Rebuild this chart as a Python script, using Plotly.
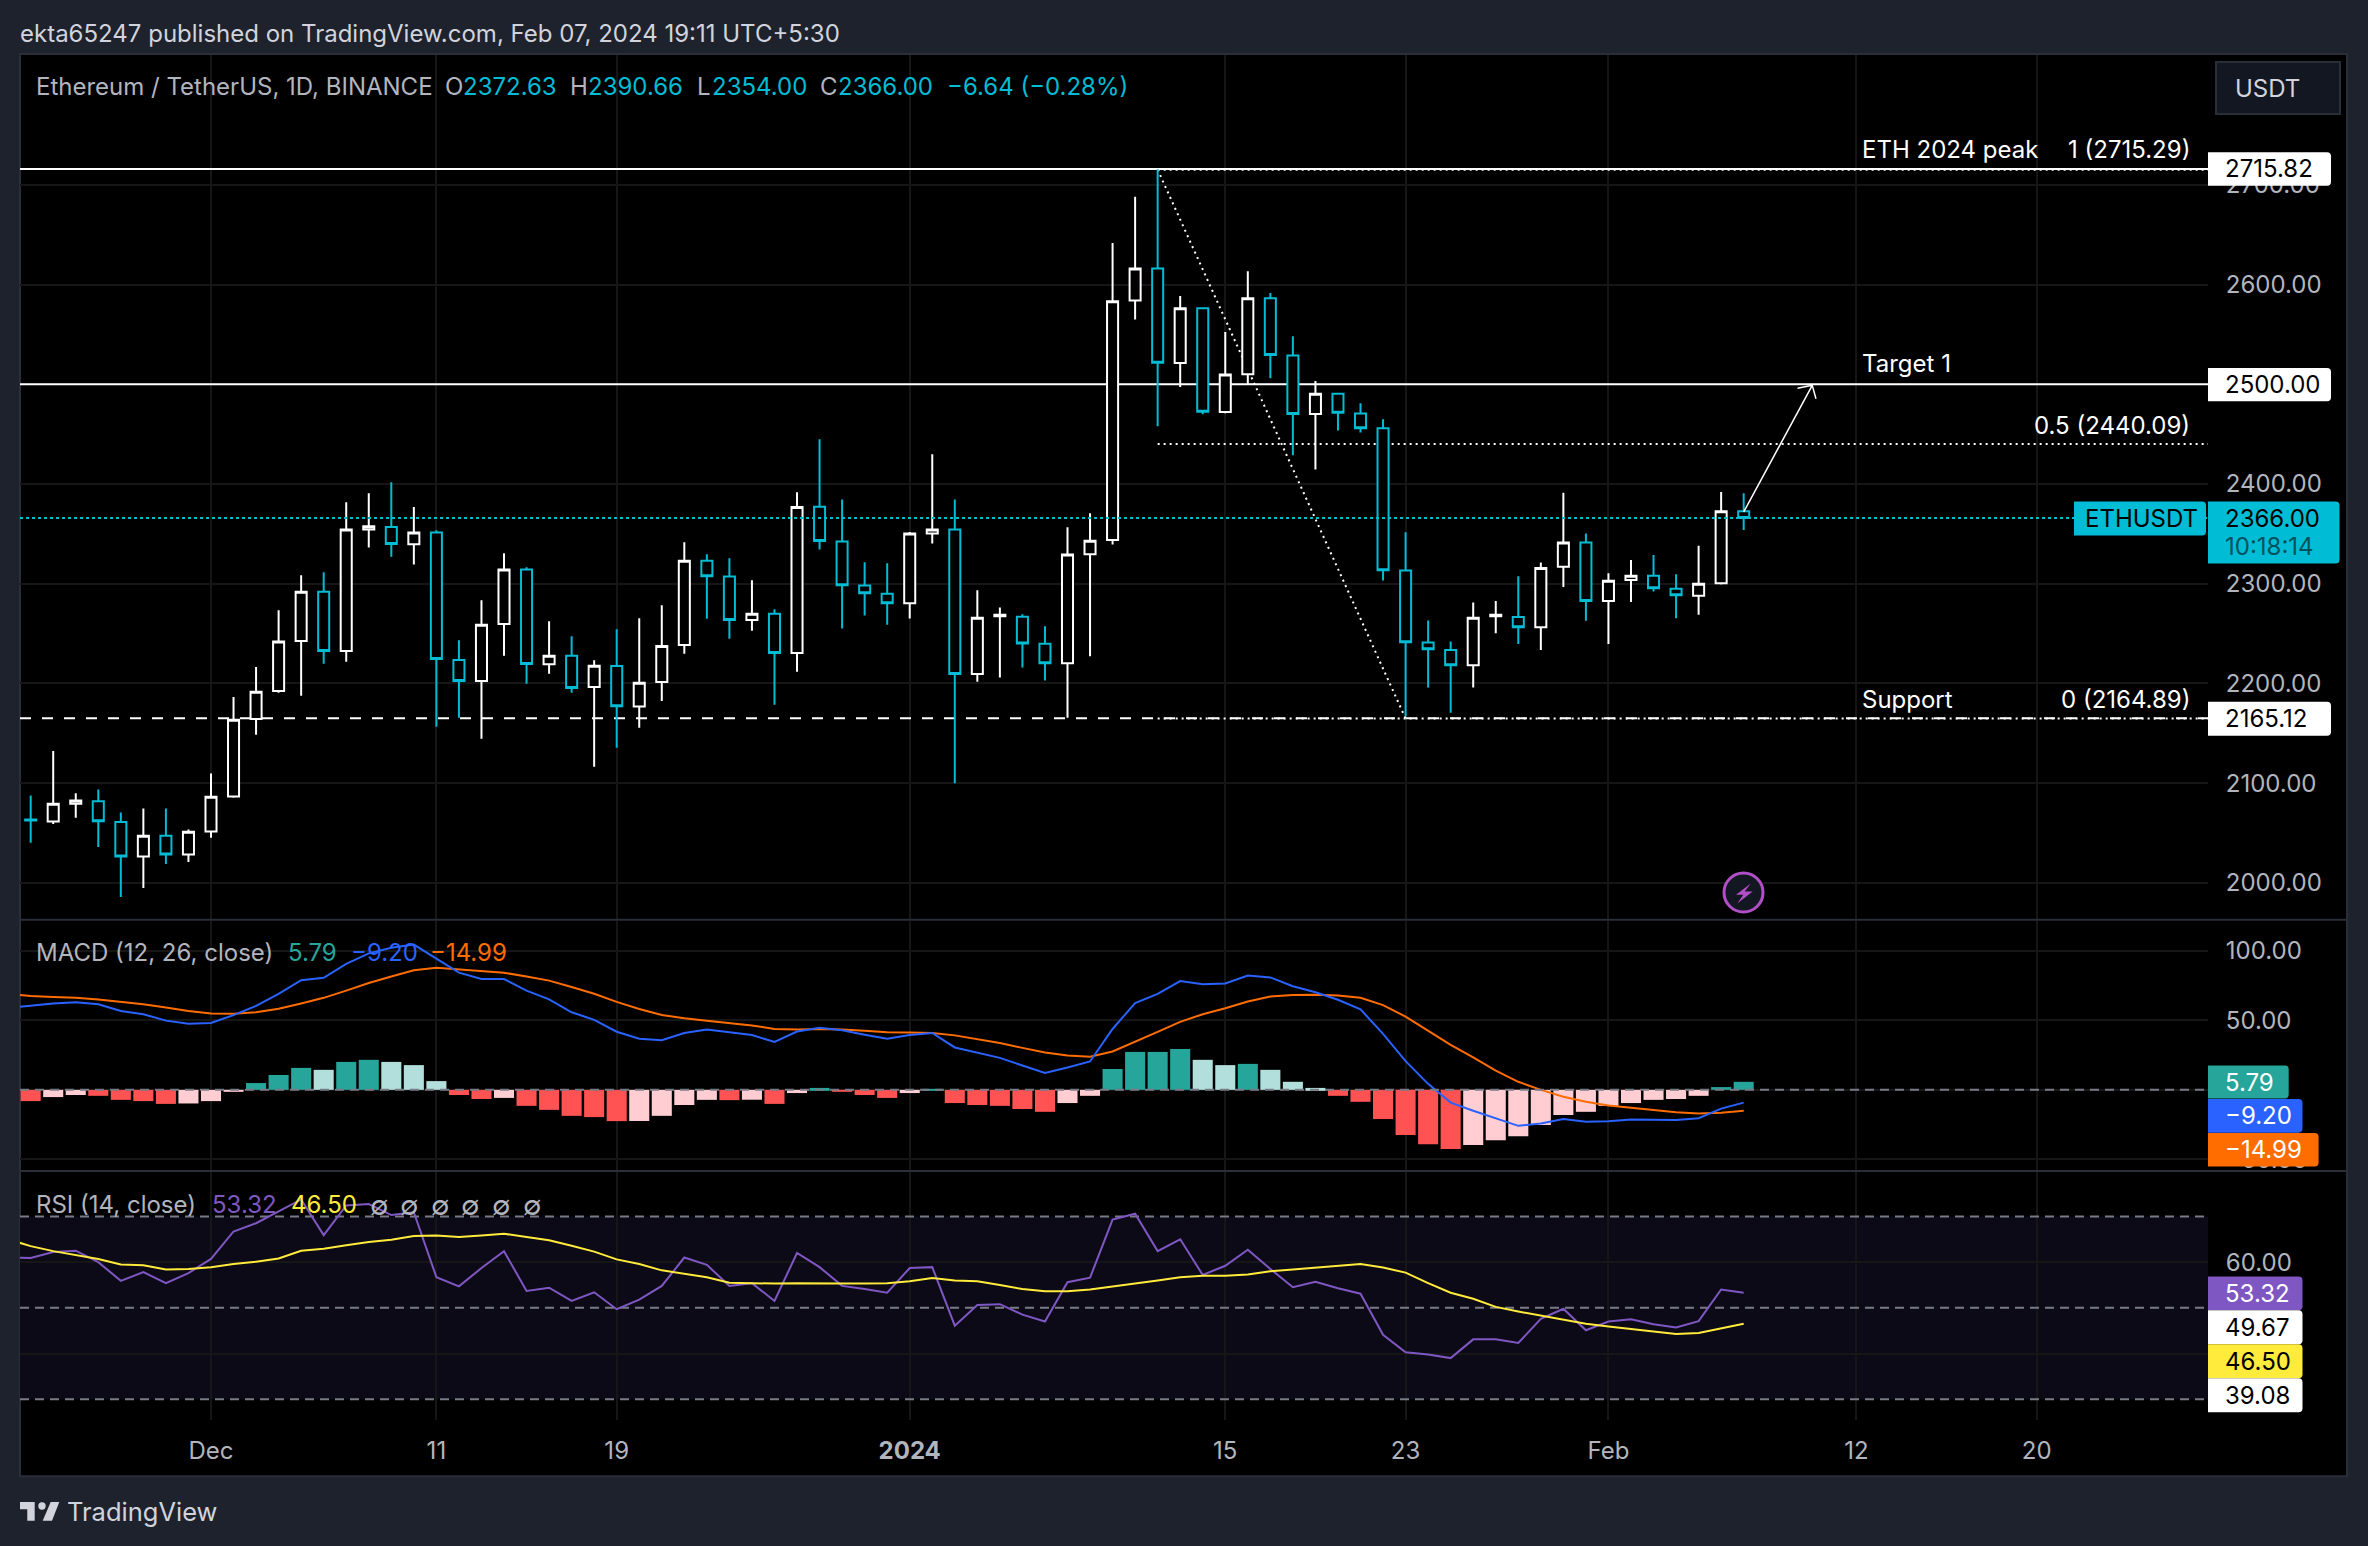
import pandas as pd
import plotly.graph_objects as go

W, H = 2368, 1546
Y_FIT = 1.0035  # vertical fit against the reference photo

# daily candles, Nov 23 2023 -> Feb 07 2024
opens = [2063.5, 2061.6, 2079.3, 2082.0, 2061.2, 2026.4, 2047.2, 2028.4, 2051.5, 2086.7, 2164.3,
         2192.4, 2242.6, 2292.1, 2232.6, 2354.3, 2357.0, 2339.6, 2351.3, 2223.5, 2202.4, 2259.7,
         2314.2, 2219.2, 2227.9, 2196.4, 2217.5, 2177.0, 2201.4, 2238.6, 2323.2, 2307.2, 2263.7,
         2270.0, 2230.5, 2377.3, 2342.4, 2298.2, 2290.1, 2280.5, 2350.4, 2354.3, 2209.5, 2267.5,
         2267.0, 2239.8, 2220.2, 2329.7, 2343.9, 2584.0, 2616.2, 2521.3, 2576.3, 2472.2, 2510.2,
         2586.3, 2529.0, 2470.3, 2490.6, 2470.7, 2456.0, 2313.2, 2241.0, 2233.7, 2218.3, 2267.5,
         2266.8, 2256.4, 2317.1, 2341.3, 2282.6, 2303.8, 2308.0, 2295.1, 2288.0, 2300.5, 2372.63]
highs = [2087.7, 2132.2, 2090.0, 2093.7, 2070.6, 2074.6, 2074.6, 2053.5, 2109.8, 2186.4, 2216.5,
         2273.4, 2308.5, 2311.5, 2381.8, 2390.8, 2401.9, 2377.1, 2353.7, 2243.3, 2283.4, 2330.6,
         2316.5, 2262.3, 2247.3, 2223.2, 2254.3, 2265.3, 2278.4, 2341.6, 2329.6, 2325.6, 2303.5,
         2274.4, 2391.8, 2444.9, 2384.6, 2321.6, 2320.5, 2352.0, 2429.9, 2384.6, 2293.6, 2276.3,
         2269.4, 2257.5, 2356.6, 2370.8, 2641.6, 2688.0, 2715.8, 2588.6, 2577.4, 2552.5, 2613.5,
         2591.6, 2548.2, 2503.3, 2491.0, 2481.0, 2464.9, 2351.6, 2263.2, 2242.1, 2281.3, 2282.6,
         2307.6, 2321.3, 2391.2, 2350.4, 2310.5, 2323.8, 2328.8, 2309.6, 2338.0, 2392.0, 2390.66]
lows = [2040.2, 2059.2, 2065.3, 2036.1, 1986.0, 1995.0, 2019.1, 2021.0, 2045.2, 2085.5, 2148.6,
        2190.7, 2187.7, 2219.8, 2221.8, 2336.3, 2327.2, 2319.2, 2156.6, 2165.6, 2144.6, 2227.9,
        2199.8, 2209.8, 2190.7, 2116.4, 2135.5, 2155.6, 2182.4, 2229.9, 2265.0, 2244.9, 2253.0,
        2178.7, 2211.8, 2334.3, 2255.2, 2268.2, 2259.0, 2265.2, 2340.4, 2100.0, 2201.8, 2206.0,
        2216.0, 2203.0, 2165.7, 2227.2, 2339.3, 2565.1, 2458.0, 2497.2, 2469.9, 2471.0, 2500.2,
        2506.0, 2428.8, 2414.6, 2453.8, 2451.8, 2303.2, 2167.2, 2196.0, 2170.7, 2196.0, 2250.5,
        2239.7, 2233.5, 2296.8, 2263.0, 2239.7, 2281.8, 2292.2, 2265.5, 2268.9, 2299.2, 2354.0]
closes = [2062.5, 2079.3, 2082.7, 2061.9, 2026.4, 2047.2, 2028.4, 2051.2, 2086.3, 2163.6, 2191.7,
          2242.0, 2292.1, 2232.6, 2354.3, 2357.7, 2340.0, 2351.3, 2224.5, 2202.4, 2259.0, 2314.2,
          2219.5, 2227.9, 2195.4, 2217.8, 2177.3, 2200.8, 2237.6, 2323.2, 2307.5, 2263.7, 2270.0,
          2230.5, 2377.1, 2342.8, 2298.6, 2290.5, 2280.5, 2350.4, 2354.3, 2209.5, 2266.0, 2269.0,
          2240.2, 2220.2, 2329.3, 2343.1, 2583.2, 2616.2, 2521.7, 2576.3, 2472.6, 2509.8, 2586.3,
          2529.4, 2470.3, 2490.6, 2471.4, 2456.0, 2313.6, 2241.4, 2234.4, 2218.3, 2266.0, 2269.0,
          2256.4, 2315.9, 2341.3, 2282.6, 2303.0, 2308.0, 2295.5, 2288.4, 2300.1, 2372.6, 2366.0]

macd_hist = [-8.1, -5.2, -3.7, -4.3, -7.2, -8.1, -10.1, -9.8, -8.1, -1.4, 4.9, 10.7, 15.8, 14.4,
             20.1, 21.6, 20.1, 17.8, 6.3, -3.7, -6.6, -5.8, -11.5, -14.4, -18.7, -19.6, -22.5,
             -22.4, -18.7, -10.9, -7.2, -7.4, -7.1, -10.1, -2.3, 1.4, -1.4, -3.7, -5.8, -2.3, 0.5,
             -9.5, -10.9, -11.5, -13.8, -15.8, -9.5, -4.3, 15.0, 27.3, 27.3, 29.4, 21.6, 17.8,
             18.7, 14.4, 5.8, 1.4, -4.3, -8.6, -21.0, -32.5, -39.1, -42.6, -39.7, -36.3, -33.4,
             -25.3, -18.1, -15.8, -11.5, -9.5, -7.2, -6.6, -4.3, 2.0, 5.79]

# indicator lines start one day earlier, they run off the left edge
macd_line = [59.0, 60.4, 62.2, 63.0, 61.6, 56.7, 54.4, 49.8, 47.5, 48.1, 53.8, 60.4, 69.1, 78.9,
             80.6, 90.7, 98.2, 102.2, 104.5, 94.4, 84.3, 79.7, 79.7, 71.4, 65.1, 55.8, 50.4, 41.8,
             36.8, 35.7, 40.9, 43.5, 41.2, 39.4, 34.5, 42.0, 44.6, 42.9, 39.7, 36.8, 39.4, 40.9,
             30.5, 26.5, 23.0, 17.5, 12.1, 16.1, 20.4, 43.8, 62.5, 69.1, 78.3, 76.0, 76.6, 82.3,
             80.9, 74.5, 70.2, 64.8, 57.9, 40.3, 20.7, 4.3, -9.2, -15.0, -20.4, -25.9, -24.2,
             -21.0, -23.0, -22.5, -21.3, -21.6, -21.6, -20.4, -13.5, -9.20]
macd_signal = [69.1, 67.6, 66.8, 66.2, 65.0, 63.3, 61.6, 59.3, 56.7, 55.0, 54.7, 55.8, 58.4, 62.2,
               66.2, 71.4, 76.9, 81.5, 86.1, 87.8, 86.6, 85.5, 84.3, 81.5, 78.6, 74.0, 69.1, 63.3,
               58.2, 53.8, 51.5, 49.8, 48.1, 46.3, 43.8, 43.5, 43.8, 43.5, 42.6, 41.5, 41.2, 40.9,
               39.2, 36.6, 33.7, 30.2, 26.8, 24.8, 23.9, 27.6, 34.5, 41.7, 48.9, 54.4, 58.7, 63.6,
               67.1, 68.2, 68.5, 67.9, 66.2, 61.0, 52.7, 42.6, 32.3, 23.3, 13.8, 5.8, 0.0, -4.9,
               -8.6, -11.2, -13.0, -14.7, -16.1, -17.0, -16.4, -14.99]
rsi_line = [61.0, 60.9, 62.2, 62.5, 60.0, 55.9, 57.8, 55.4, 57.6, 60.7, 66.7, 68.5, 71.1, 73.7,
            65.9, 72.4, 72.7, 70.3, 70.9, 56.7, 54.7, 58.7, 62.4, 53.7, 54.4, 51.5, 53.4, 49.7,
            51.8, 54.8, 61.0, 59.4, 54.8, 55.4, 51.5, 62.0, 58.9, 54.8, 54.1, 53.3, 58.7, 58.9,
            46.1, 50.6, 50.8, 48.5, 47.0, 55.6, 56.6, 69.3, 70.6, 62.4, 65.0, 57.2, 59.2, 62.7,
            58.5, 54.5, 55.7, 54.3, 53.1, 44.1, 40.3, 39.8, 39.0, 43.1, 43.1, 42.3, 47.6, 49.8,
            45.1, 47.0, 47.5, 46.4, 45.7, 47.1, 54.0, 53.32]
rsi_ma = [65.0, 63.5, 62.4, 61.6, 60.7, 59.5, 59.3, 58.4, 58.5, 58.9, 59.6, 60.1, 60.8, 62.5,
          62.9, 63.7, 64.4, 64.9, 65.7, 65.8, 65.5, 65.8, 66.2, 65.5, 64.8, 63.6, 62.3, 60.6,
          59.6, 58.2, 57.4, 56.7, 55.5, 55.4, 55.3, 55.4, 55.3, 55.3, 55.3, 55.4, 55.8, 56.5,
          56.0, 55.8, 55.0, 54.1, 53.6, 53.6, 54.0, 54.6, 55.3, 56.0, 56.7, 57.0, 57.0, 57.3,
          58.0, 58.4, 58.8, 59.3, 59.6, 58.8, 57.7, 55.4, 53.3, 52.0, 50.2, 49.2, 48.3, 47.3,
          46.5, 45.9, 45.4, 44.8, 44.3, 44.5, 45.5, 46.50]

# drawings on the price pane
target_levels = [2715.82, 2500.00]
support_level = 2165.12
last_price = 2366.00
fib_levels = [2715.29, 2440.09, 2164.89]
fib_start = "2024-01-12"
fib_end = "2024-01-23"
arrow_x = ["2024-02-07", "2024-02-10 01:00", "2024-02-09 09:20", "2024-02-10 01:00", "2024-02-10 05:00"]
arrow_y = [2372, 2499, 2496, 2499, 2485.6]

# tick labels, the blank ones sit behind a price tag in the original
price_ticks = [2000, 2100, 2200, 2300, 2400, 2500, 2600, 2700]
price_labels = ["2000.00", "2100.00", "2200.00", "2300.00", "2400.00", "", "2600.00", "2700.00"]
macd_ticks = [-50, 0, 50, 100]
macd_labels = ["−50.00", "", "50.00", "100.00"]
rsi_ticks = [40, 60]
rsi_labels = ["", "60.00"]
rsi_bands = [70, 50, 30]
date_ticks = ["2023-12-01", "2023-12-11", "2023-12-19", "2024-01-01", "2024-01-15", "2024-01-23",
              "2024-02-01", "2024-02-12", "2024-02-20"]
date_labels = ["Dec", "11", "19", "<b>2024</b>", "15", "23", "Feb", "12", "20"]

dates = pd.date_range("2023-11-23", periods=len(closes))
line_dates = pd.date_range("2023-11-22", periods=len(macd_line))
X_START, X_END = "2023-11-22 12:38", "2024-02-27 14:24"

FONT = "Inter"
BG = "#1e222d"
BORDER = "#2a2e39"
GRID = "#161616"
WHITE = "#ffffff"
CYAN = "#00bcd4"
TEXT = "#b2b5be"
TEAL = "#26a69a"
BLUE = "#2962ff"
ORANGE = "#ff6d00"
PURPLE = "#7e57c2"
YELLOW = "#ffeb3b"
BAND = "#787b86"


def px(x):
    return x / W


def py(y):
    return 1 - y * Y_FIT / H


def hist_color(i):
    v = macd_hist[i]
    prev = macd_hist[i - 1] if i else v + 1
    if v >= 0:
        return TEAL if v >= prev else "#b2dfdb"
    return "#ffcdd2" if v >= prev else "#ff5252"


def poly(points):
    return "M" + " L".join(f"{px(x):.5f},{py(y):.5f}" for x, y in points) + " Z"


def tag_path(x0, x1, y0, y1, r=4):
    return (f"M{px(x0):.5f},{py(y0):.5f} L{px(x1 - r):.5f},{py(y0):.5f} "
            f"Q{px(x1):.5f},{py(y0):.5f} {px(x1):.5f},{py(y0 + r):.5f} "
            f"L{px(x1):.5f},{py(y1 - r):.5f} "
            f"Q{px(x1):.5f},{py(y1):.5f} {px(x1 - r):.5f},{py(y1):.5f} "
            f"L{px(x0):.5f},{py(y1):.5f} Z")


shapes = []
annotations = []


def label(text, x, y, color=TEXT, size=24, anchor="left"):
    annotations.append(dict(text=text, x=px(x), y=py(y), xref="paper", yref="paper", showarrow=False,
                            xanchor=anchor, yanchor="middle", borderpad=0, borderwidth=0,
                            font=dict(family=FONT, size=size, color=color)))


def tag(text, x0, x1, y0, y1, fill, color, text_x=2225):
    shapes.append(dict(type="path", path=tag_path(x0, x1, y0, y1), xref="paper", yref="paper",
                       fillcolor=fill, line=dict(width=0), layer="above"))
    label(text, text_x, (y0 + y1) / 2, color)


def paper_line(x0, y0, x1, y1, color=BORDER, width=2):
    shapes.append(dict(type="line", xref="paper", yref="paper", x0=px(x0), x1=px(x1), y0=py(y0), y1=py(y1),
                       line=dict(color=color, width=width), layer="above"))


fig = go.Figure()

fig.add_trace(go.Candlestick(
    x=dates, open=opens, high=highs, low=lows, close=closes, showlegend=False, whiskerwidth=0,
    increasing=dict(line=dict(color=WHITE, width=2), fillcolor="#000000"),
    decreasing=dict(line=dict(color=CYAN, width=2), fillcolor="#000000"),
    xaxis="x", yaxis="y",
))
fig.add_trace(go.Scatter(x=arrow_x, y=arrow_y, mode="lines", line=dict(color=WHITE, width=1.5),
                         showlegend=False, xaxis="x", yaxis="y"))

fig.add_trace(go.Bar(x=dates, y=macd_hist, marker=dict(color=[hist_color(i) for i in range(len(macd_hist))], line=dict(width=0)),
                     showlegend=False, xaxis="x2", yaxis="y2"))
fig.add_trace(go.Scatter(x=line_dates, y=macd_signal, mode="lines", line=dict(color=ORANGE, width=2),
                         showlegend=False, xaxis="x2", yaxis="y2"))
fig.add_trace(go.Scatter(x=line_dates, y=macd_line, mode="lines", line=dict(color=BLUE, width=2),
                         showlegend=False, xaxis="x2", yaxis="y2"))

fig.add_trace(go.Scatter(x=line_dates, y=rsi_line, mode="lines", line=dict(color=PURPLE, width=2),
                         showlegend=False, xaxis="x3", yaxis="y3"))
fig.add_trace(go.Scatter(x=line_dates, y=rsi_ma, mode="lines", line=dict(color=YELLOW, width=2),
                         showlegend=False, xaxis="x3", yaxis="y3"))

# chart panel behind the axes
shapes.append(dict(type="rect", xref="paper", yref="paper", x0=px(20), x1=px(2347), y0=py(1475), y1=py(54),
                   fillcolor="#000000", line=dict(color=BORDER, width=2), layer="below"))

# horizontal drawings, above the grid but under the candles
for level in target_levels:
    shapes.append(dict(type="line", xref="x", yref="y", x0=X_START, x1=X_END, y0=level, y1=level,
                       line=dict(color=WHITE, width=2), layer="between"))
shapes.append(dict(type="line", xref="x", yref="y", x0=X_START, x1=X_END, y0=support_level, y1=support_level,
                   line=dict(color=WHITE, width=2, dash="11px,11px"), layer="between"))
for level in fib_levels:
    shapes.append(dict(type="line", xref="x", yref="y", x0=fib_start, x1=X_END, y0=level, y1=level,
                       line=dict(color=WHITE, width=2, dash="2px,4px"), layer="between"))
shapes.append(dict(type="line", xref="x", yref="y", x0=fib_start, x1=fib_end, y0=fib_levels[0], y1=fib_levels[-1],
                   line=dict(color=WHITE, width=2, dash="2px,4px"), layer="between"))
shapes.append(dict(type="line", xref="x", yref="y", x0=X_START, x1=X_END, y0=last_price, y1=last_price,
                   line=dict(color=CYAN, width=2, dash="3px,3px"), layer="above"))

shapes.append(dict(type="line", xref="x2", yref="y2", x0=X_START, x1=X_END, y0=0, y1=0,
                   line=dict(color=BAND, width=2, dash="9px,6px"), layer="above"))
shapes.append(dict(type="rect", xref="x3", yref="y3", x0=X_START, x1=X_END, y0=rsi_bands[-1], y1=rsi_bands[0],
                   fillcolor="#0d0a17", line=dict(width=0), layer="below"))
for band in rsi_bands:
    shapes.append(dict(type="line", xref="x3", yref="y3", x0=X_START, x1=X_END, y0=band, y1=band,
                       line=dict(color=BAND, width=2, dash="9px,6px"), layer="between"))

# pane separators and the price scale edge
paper_line(20, 919, 2347, 919)
paper_line(20, 1170, 2347, 1170)

# price scale tags
tag("2715.82", 2208, 2331, 152, 185.6, WHITE, "#000000")
tag("2500.00", 2208, 2331, 367.6, 401, WHITE, "#000000")
tag("2165.12", 2208, 2331, 701, 735, WHITE, "#000000")
tag("2366.00", 2208, 2339.5, 501, 563, CYAN, "#000000")
annotations.pop()
label("2366.00", 2225, 518, "#000000")
label("10:18:14", 2225, 546, "#00535e")
tag("ETHUSDT", 2074, 2206, 501, 535, CYAN, "#000000", text_x=2085)
tag("5.79", 2208, 2288.7, 1064.5, 1097.6, TEAL, WHITE)
tag("−9.20", 2208, 2302.5, 1098, 1131.6, BLUE, WHITE)
tag("−14.99", 2208, 2318.6, 1132, 1165.5, ORANGE, WHITE)
tag("53.32", 2208, 2302.5, 1275.3, 1309, PURPLE, WHITE)
tag("49.67", 2208, 2302.5, 1309, 1343, WHITE, "#000000")
tag("46.50", 2208, 2302.5, 1343, 1377, YELLOW, "#000000")
tag("39.08", 2208, 2302.5, 1377, 1411, WHITE, "#000000")

# USDT button
shapes.append(dict(type="rect", xref="paper", yref="paper", x0=px(2216), x1=px(2340), y0=py(114), y1=py(62),
                   fillcolor="#131722", line=dict(color=BORDER, width=2), layer="above"))
label("USDT", 2235, 88, "#d1d4dc")

# headers and legends
label("ekta65247 published on TradingView.com, Feb 07, 2024 19:11 UTC+5:30", 20, 33, "#d1d4dc")
label("Ethereum / TetherUS, 1D, BINANCE", 36, 86)
for text, x, color in [("O", 445, TEXT), ("2372.63", 463, CYAN), ("H", 570, TEXT), ("2390.66", 588, CYAN),
                       ("L", 697, TEXT), ("2354.00", 712, CYAN), ("C", 820, TEXT), ("2366.00", 838, CYAN),
                       ("−6.64 (−0.28%)", 947, CYAN)]:
    label(text, x, 86, color)
label("MACD (12, 26, close)", 36, 952)
label("5.79", 288, 952, TEAL)
label("−9.20", 351, 952, BLUE)
label("−14.99", 430, 952, ORANGE)
label("RSI (14, close)", 36, 1203)
label("53.32", 212, 1203, PURPLE)
label("46.50", 291, 1203, YELLOW)
for x in [379, 409, 440, 470, 501, 532]:
    label("∅", x, 1204, TEXT, size=27, anchor="center")

# drawing labels
label("ETH 2024 peak", 1862, 149, WHITE)
label("1 (2715.29)", 2190, 149, WHITE, anchor="right")
label("Target 1", 1862, 363, WHITE)
label("0.5 (2440.09)", 2190, 425, WHITE, anchor="right")
label("Support", 1862, 699, WHITE)
label("0 (2164.89)", 2190, 699, WHITE, anchor="right")

# lightning badge
shapes.append(dict(type="circle", xref="paper", yref="paper", x0=px(1724), x1=px(1763), y0=py(911.2), y1=py(872.2),
                   fillcolor="#131722", line=dict(color="#b04fc6", width=3), layer="above"))
shapes.append(dict(type="path", xref="paper", yref="paper", fillcolor="#b04fc6", line=dict(width=0), layer="above",
                   path=poly([(1750.7, 882.7), (1736, 894), (1743.3, 894), (1737.3, 902.7), (1752.7, 890.7), (1744.7, 890.7)])))

# TradingView logo
for pts in [[(20, 1500.7), (34.7, 1500.7), (34.7, 1519.3), (27.3, 1519.3), (27.3, 1508), (20, 1508)],
            [(50.7, 1500.7), (59.3, 1500.7), (52, 1519.3), (42.7, 1519.3)]]:
    shapes.append(dict(type="path", xref="paper", yref="paper", fillcolor="#d1d4dc", line=dict(width=0), layer="above",
                       path=poly(pts)))
shapes.append(dict(type="circle", xref="paper", yref="paper", x0=px(38.3), x1=px(45.7), y0=py(1508.4), y1=py(1501),
                   fillcolor="#d1d4dc", line=dict(width=0), layer="above"))
label("TradingView", 67, 1510, "#d1d4dc", size=25.5)

axis_common = dict(showline=False, zeroline=False, gridcolor=GRID, gridwidth=2)
x_common = dict(axis_common, type="date", range=[X_START, X_END], tickvals=date_ticks, rangeslider=dict(visible=False),
                fixedrange=True)
y_common = dict(axis_common, side="right", ticks="outside", ticklen=12, tickcolor="rgba(0,0,0,0)",
                tickfont=dict(family=FONT, size=24, color=TEXT), fixedrange=True)

fig.update_layout(
    width=W, height=H, margin=dict(l=0, r=0, t=0, b=0), autosize=False,
    paper_bgcolor=BG, plot_bgcolor="#000000", bargap=0.11, showlegend=False,
    font=dict(family=FONT, color=TEXT), shapes=shapes, annotations=annotations,
    xaxis=dict(x_common, domain=[px(20), px(2208)], anchor="y", showticklabels=False),
    xaxis2=dict(x_common, domain=[px(20), px(2208)], anchor="y2", matches="x", showticklabels=False),
    xaxis3=dict(x_common, domain=[px(20), px(2208)], anchor="y3", matches="x", ticktext=date_labels,
                ticks="outside", ticklen=9, tickcolor="rgba(0,0,0,0)",
                tickfont=dict(family=FONT, size=24, color=TEXT)),
    yaxis=dict(y_common, domain=[py(918), py(55)], anchor="x", range=[1964.0, 2830.2],
               tickvals=price_ticks, ticktext=price_labels),
    yaxis2=dict(y_common, domain=[py(1169), py(920)], anchor="x2", range=[-57.7, 121.6],
                tickvals=macd_ticks, ticktext=macd_labels),
    yaxis3=dict(y_common, domain=[py(1419), py(1171)], anchor="x3", range=[25.4, 79.7],
                tickvals=rsi_ticks, ticktext=rsi_labels),
)

# default body margin shifts the page by 8px
fig.write_html("out.html", config={"displayModeBar": False},
               post_script="document.body.style.margin='0';"
                           "document.querySelector('.plotly-graph-div').style.overflow='hidden';")
